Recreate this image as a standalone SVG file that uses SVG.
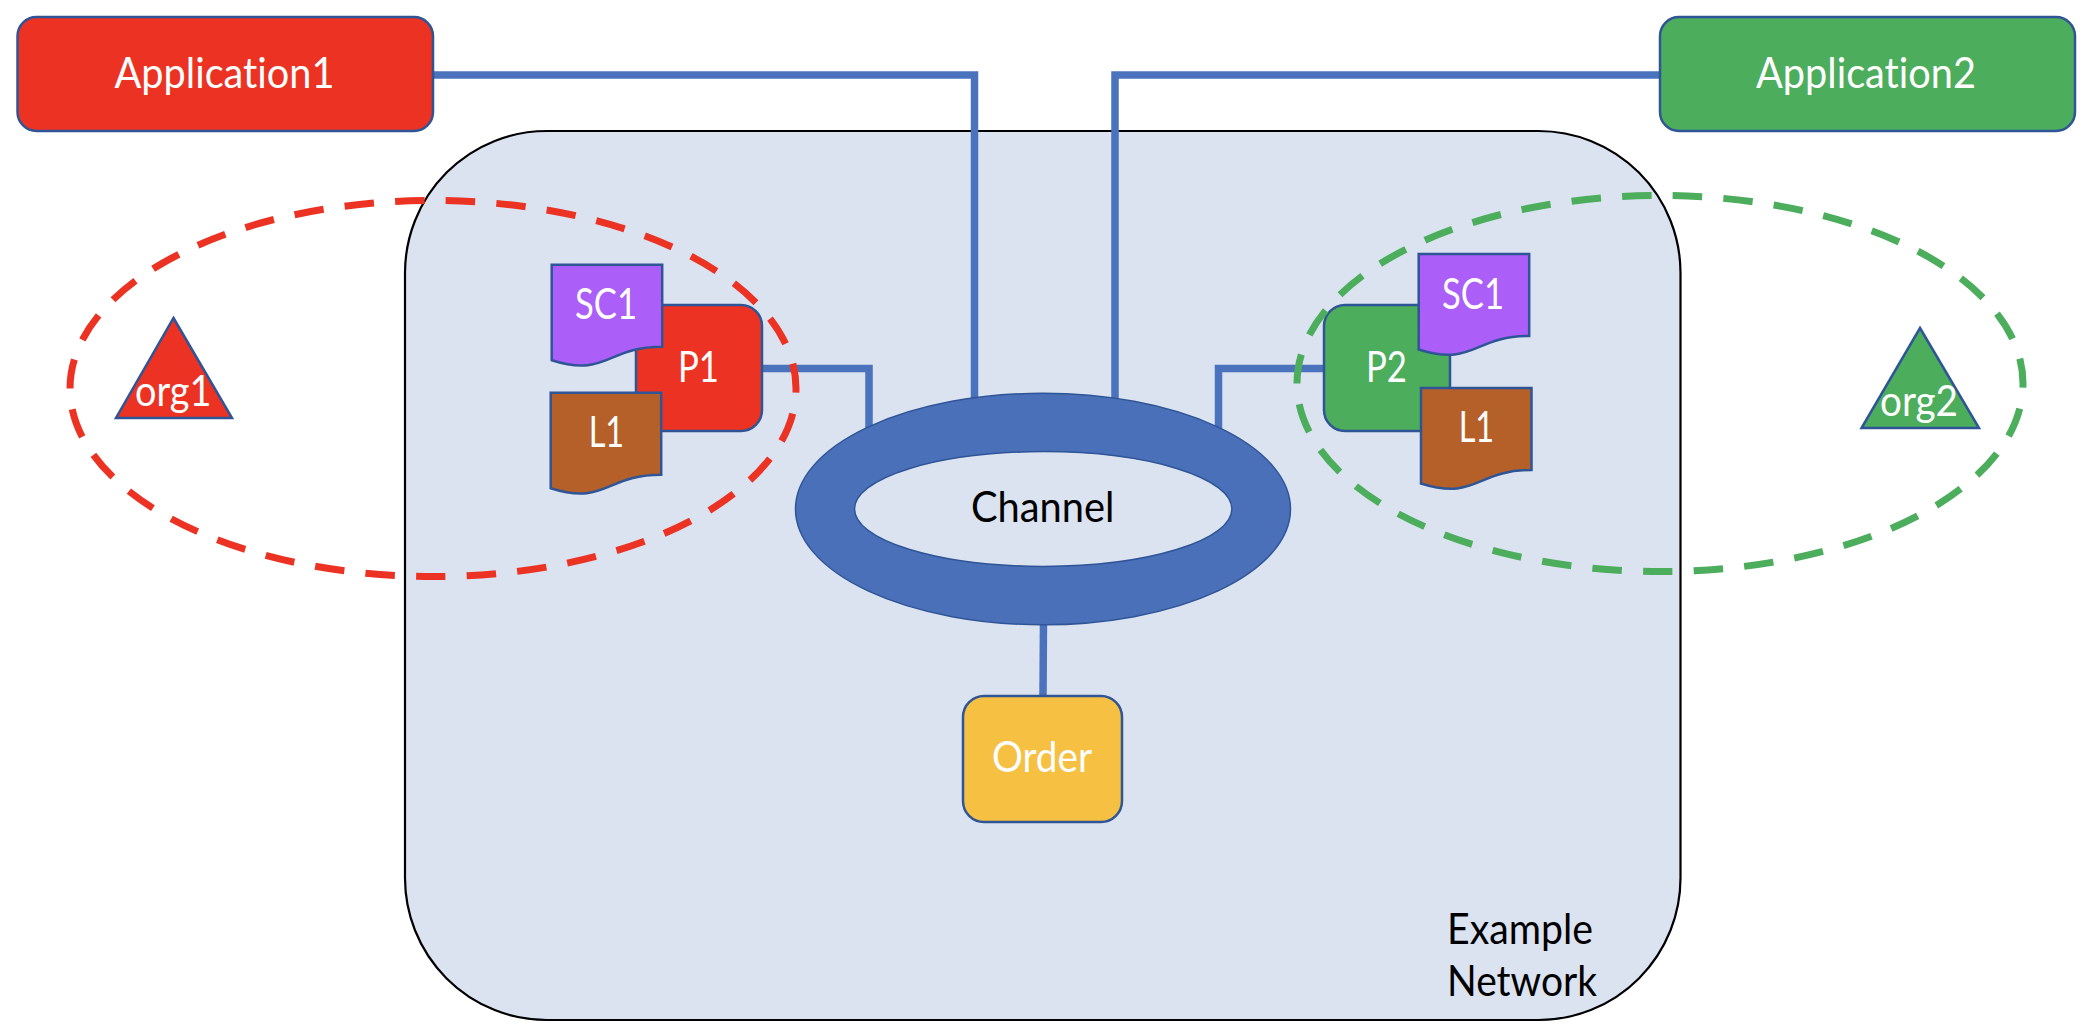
<svg xmlns="http://www.w3.org/2000/svg" width="2098" height="1034" viewBox="0 0 2098 1034">
<style>
text{font-family:Lato,"Liberation Sans",sans-serif;font-size:42px;fill:#fff;font-variant-ligatures:none}
.k{fill:#000}
.s{stroke:#2f5597;stroke-width:2.5}
.conn{fill:none;stroke:#4a72bd;stroke-width:7.5}
.org{fill:none;stroke-width:7;stroke-dasharray:29.500 21.200}
</style>
<defs>
<path id="doc" d="M0 0H110.500V82C55 82 55 113 0 95.500Z"/>
</defs>
<rect width="2098" height="1034" fill="#fff"/>
<g id="network">
<rect x="405" y="131" width="1275.500" height="889" rx="142" ry="142" fill="#dbe3f1" stroke="#000" stroke-width="2.200"/>
<text class="k" x="1447" y="944" textLength="146" lengthAdjust="spacingAndGlyphs">Example</text>
<text class="k" x="1447" y="996" textLength="150" lengthAdjust="spacingAndGlyphs">Network</text>
</g>
<g id="connectors">
<path class="conn" d="M433 75H974.500V400"/>
<path class="conn" d="M1660 75H1115V400"/>
<path class="conn" d="M762 368.500H869V430"/>
<path class="conn" d="M1324 368.500H1218.500V430"/>
<path class="conn" d="M1043.500 620L1043 696"/>
</g>
<g id="app1">
<rect class="s" x="17.500" y="17" width="415.500" height="114" rx="19" fill="#ec3323"/>
<text x="114.500" y="88" textLength="220" lengthAdjust="spacingAndGlyphs">Application1</text>
</g>
<g id="app2">
<rect class="s" x="1660" y="17" width="415" height="114" rx="19" fill="#4cad5c"/>
<text x="1756" y="88" textLength="220" lengthAdjust="spacingAndGlyphs">Application2</text>
</g>
<g id="channel">
<path stroke="#2f5597" stroke-width="1.500" fill="#4a70b9" fill-rule="evenodd" d="M795.500 509a247.500 115.800 0 1 0 495 0a247.500 115.800 0 1 0-495 0ZM854.500 509a188.700 57.400 0 1 1 377.400 0a188.700 57.400 0 1 1-377.400 0Z"/>
<text class="k" x="971" y="522" textLength="143.500" lengthAdjust="spacingAndGlyphs">Channel</text>
</g>
<g id="order">
<rect class="s" x="963" y="696" width="159" height="126" rx="21" fill="#f6c143"/>
<text x="992" y="772" textLength="100" lengthAdjust="spacingAndGlyphs">Order</text>
</g>
<g id="p1">
<rect class="s" x="636" y="305" width="126" height="126" rx="21" fill="#ec3323"/>
<text x="678" y="381.700" textLength="41" lengthAdjust="spacingAndGlyphs">P1</text>
</g>
<g id="p2">
<rect class="s" x="1324" y="305" width="126" height="126" rx="21" fill="#4cad5c"/>
<text x="1366" y="381.700" textLength="41" lengthAdjust="spacingAndGlyphs">P2</text>
</g>
<g id="sc1-left">
<use href="#doc" class="s" x="551.700" y="264.700" fill="#ac5ef8"/>
<text x="575" y="319" textLength="62" lengthAdjust="spacingAndGlyphs">SC1</text>
</g>
<g id="l1-left">
<use href="#doc" class="s" x="550.700" y="392.700" fill="#b56028"/>
<text x="588.700" y="447" textLength="35.500" lengthAdjust="spacingAndGlyphs">L1</text>
</g>
<g id="sc1-right">
<use href="#doc" class="s" x="1418.700" y="254" fill="#ac5ef8"/>
<text x="1442" y="309" textLength="62" lengthAdjust="spacingAndGlyphs">SC1</text>
</g>
<g id="l1-right">
<use href="#doc" class="s" x="1421" y="388" fill="#b56028"/>
<text x="1458.700" y="441.700" textLength="35.500" lengthAdjust="spacingAndGlyphs">L1</text>
</g>
<g id="org1">
<path class="s" d="M173.500 318L232 418H116Z" fill="#ec3323"/>
<text x="135" y="405.700" textLength="76.500" lengthAdjust="spacingAndGlyphs">org1</text>
</g>
<g id="org2">
<path class="s" d="M1920 328L1979 428H1861.500Z" fill="#4cad5c"/>
<text x="1880" y="416" textLength="78" lengthAdjust="spacingAndGlyphs">org2</text>
</g>
<g id="org1-boundary">
<path class="org" stroke="#ec3323" d="M70 388.500A363 188 0 0 1 796 388.500A363 188 0 0 1 70 388.500"/>
</g>
<g id="org2-boundary">
<path class="org" stroke="#4cad5c" d="M1297 383.500A363 188 0 0 1 2023 383.500A363 188 0 0 1 1297 383.500"/>
</g>
</svg>
